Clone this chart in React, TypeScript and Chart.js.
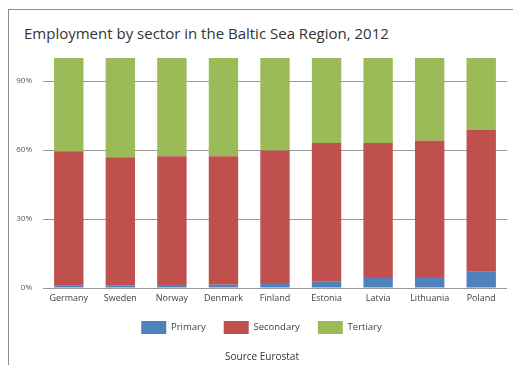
import React, { useEffect, useRef } from "react";
import { Chart, registerables } from "chart.js";

Chart.register(...registerables);

const categories = ["Germany", "Sweden", "Norway", "Denmark", "Finland", "Estonia", "Latvia", "Lithuania", "Poland"];
const primary = [1.0, 1.2, 1.3, 1.4, 2.2, 2.7, 4.4, 4.8, 7.1];
const secondary = [58.5, 55.7, 56.0, 55.9, 57.6, 60.3, 58.6, 59.2, 61.7];
const tertiary = [40.5, 43.1, 42.7, 42.7, 40.2, 37.0, 37.0, 36.0, 31.2];
const yTicks = [0, 30, 60, 90];
const titleText = "Employment by sector in the Baltic Sea Region, 2012";
const sourceText = "Source Eurostat";

const FONT = "'Open Sans', 'Noto Sans', sans-serif";

const legendShift = {
  id: "legendShift",
  afterLayout(chart: any) {
    const lg = chart.legend;
    if (lg) {
      lg.left += 8;
      lg.right += 8;
    }
  },
};

export default function App() {
  const ref = useRef<HTMLCanvasElement>(null);
  useEffect(() => {
    if (!ref.current) return;
    const chart = new Chart(ref.current, {
      type: "bar",
      data: {
        labels: categories,
        datasets: [
          { label: "Primary", data: primary, backgroundColor: "#4F81BD" },
          { label: "Secondary", data: secondary, backgroundColor: "#C0504D" },
          { label: "Tertiary", data: tertiary, backgroundColor: "#9BBB59" },
        ],
      },
      plugins: [legendShift],
      options: {
        responsive: false,
        animation: false,
        maintainAspectRatio: false,
        datasets: { bar: { barPercentage: 0.57, categoryPercentage: 1 } },
        layout: { padding: { top: 58, right: 6, bottom: 21, left: 0 } },
        plugins: {
          tooltip: { enabled: false },
          legend: {
            position: "bottom",
            labels: {
              boxWidth: 25,
              boxHeight: 13,
              padding: 18,
              color: "#404040",
              font: { family: FONT, size: 9.5 },
            },
          },
        },
        scales: {
          x: {
            stacked: true,
            grid: { display: false, drawTicks: false },
            border: { display: false },
            afterFit: (axis: any) => {
              axis.height = 15;
            },
            ticks: { color: "#404040", font: { family: FONT, size: 9 }, padding: 5, maxRotation: 0, autoSkip: false },
          },
          y: {
            stacked: true,
            min: 0,
            max: 100,
            afterBuildTicks: (axis: any) => {
              axis.ticks = yTicks.map((v) => ({ value: v }));
            },
            afterFit: (axis: any) => {
              axis.width = 43;
            },
            grid: { color: "#999", lineWidth: 1, drawTicks: false },
            border: { display: false },
            ticks: {
              color: "#555",
              font: { family: FONT, size: 8 },
              padding: 11,
              callback: (v: any) => v + "%",
            },
          },
        },
      },
    });
    return () => chart.destroy();
  }, []);

  return (
    <div style={{ position: "fixed", left: 0, top: 0, width: 513, height: 365, overflow: "hidden", background: "#fff" }}>
      <div
        style={{
          position: "absolute",
          left: 8,
          top: 9,
          width: 600,
          height: 500,
          borderTop: "1px solid #8c8c8c",
          borderLeft: "1px solid #8c8c8c",
        }}
      />
      <div
        style={{
          position: "absolute",
          left: 24,
          top: 23,
          lineHeight: "20px",
          fontFamily: FONT,
          fontSize: 15,
          color: "#333",
          whiteSpace: "nowrap",
        }}
      >
        {titleText}
      </div>
      <canvas ref={ref} width={513} height={365} style={{ position: "absolute", left: 0, top: 0 }} />
      <div
        style={{
          position: "absolute",
          left: 162,
          width: 200,
          top: 349,
          lineHeight: "14px",
          textAlign: "center",
          fontFamily: FONT,
          fontSize: 10,
          color: "#333",
          whiteSpace: "nowrap",
        }}
      >
        {sourceText}
      </div>
    </div>
  );
}
